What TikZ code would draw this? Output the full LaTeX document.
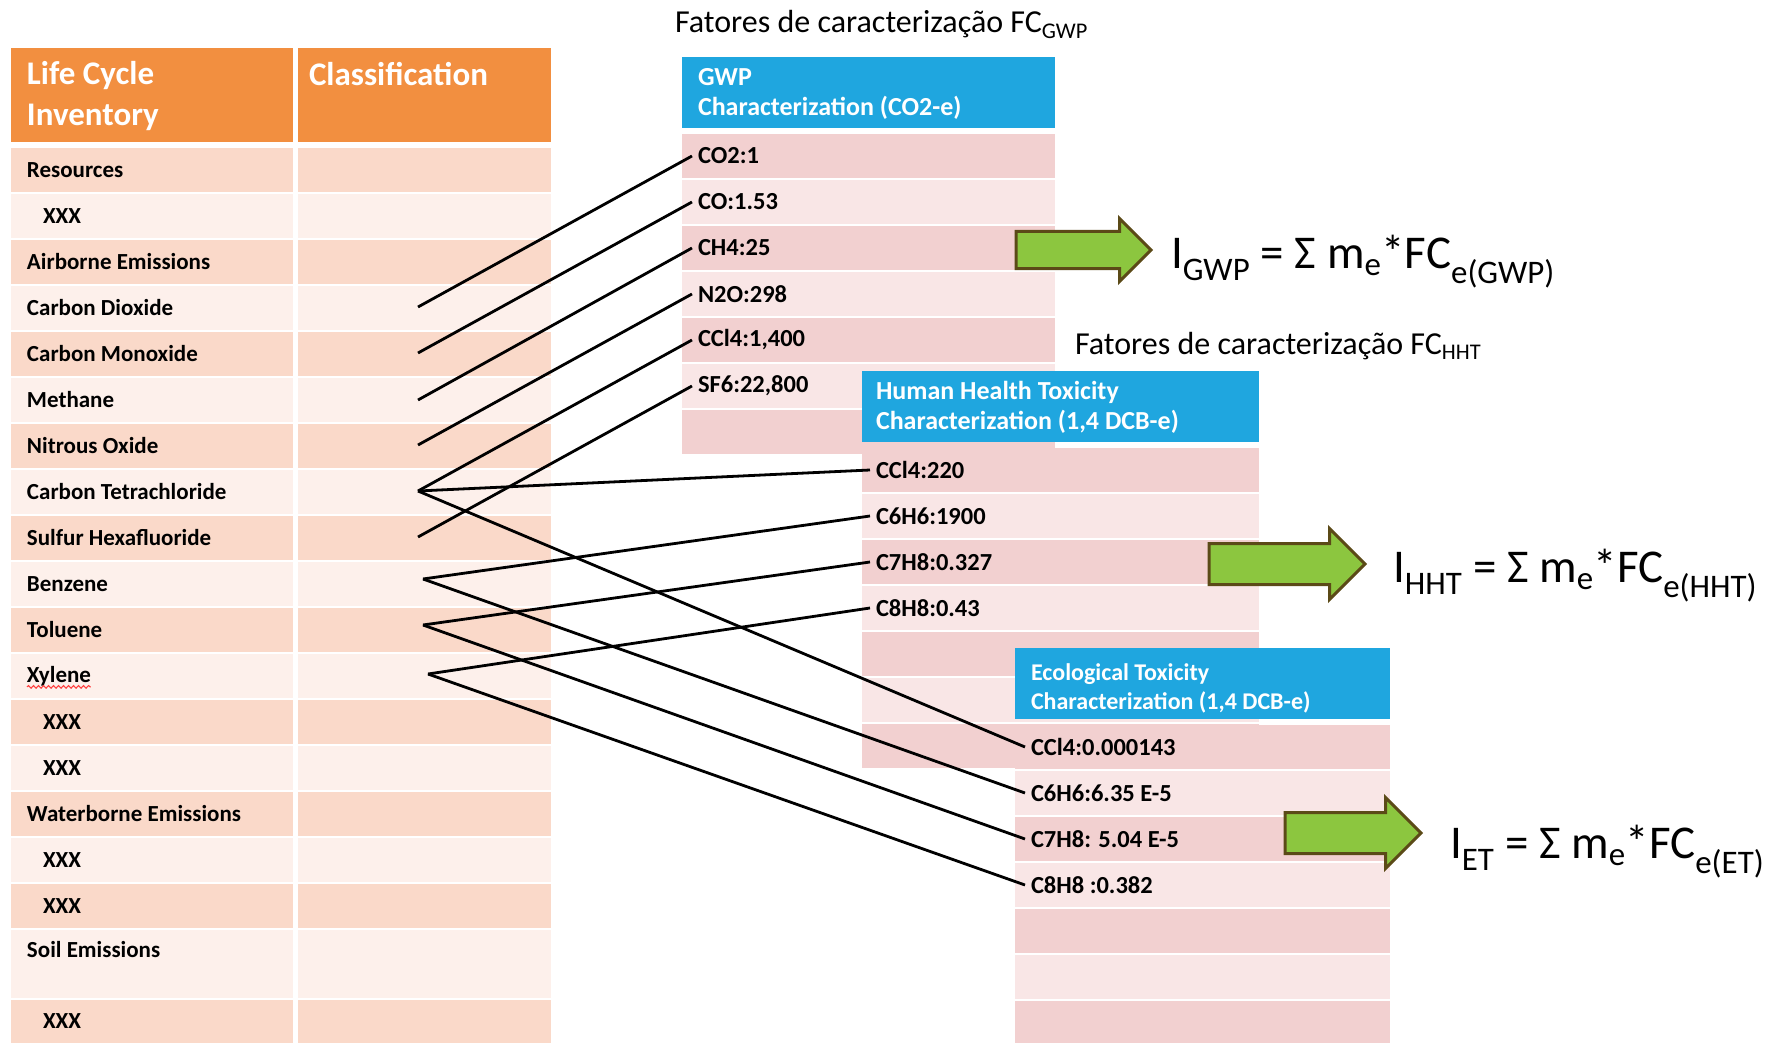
\documentclass[tikz,border=0pt]{standalone}
\usepackage{fontspec}
\setmainfont{Carlito}
\usetikzlibrary{shapes.arrows, decorations.pathmorphing}

\definecolor{lcihead}{HTML}{F28F40}
\definecolor{lcidark}{HTML}{FAD9C9}
\definecolor{lcilight}{HTML}{FDF0EB}
\definecolor{fchead}{HTML}{1FA6DF}
\definecolor{fcdark}{HTML}{F2D0D0}
\definecolor{fclight}{HTML}{F9E6E6}
\definecolor{arrowfill}{HTML}{8CC63F}
\definecolor{arrowline}{HTML}{5B4A17}

\begin{document}
\begin{tikzpicture}[x=1pt, y=-1pt,
    every node/.style={inner sep=0pt, outer sep=0pt},
    item/.style={anchor=west, font=\fontsize{23}{26}\selectfont\bfseries},
    factor/.style={anchor=west, outer xsep=6pt, font=\fontsize{24.5}{28}\selectfont\bfseries},
    headtext/.style={anchor=west, align=left, text=white, font=\fontsize{26}{30}\selectfont\bfseries},
    lcitext/.style={anchor=west, align=left, text=white, font=\fontsize{33}{41}\selectfont\bfseries},
    title/.style={anchor=base west, font=\fontsize{32}{36}\selectfont},
    formula/.style={anchor=base west, font=\fontsize{47}{56}\selectfont},
    link/.style={line width=2.8pt, black},
    fatarrow/.style={single arrow, anchor=tip, draw=arrowline, fill=arrowfill, line width=3pt,
      inner xsep=0pt, inner ysep=19pt, single arrow head extend=15pt}]
  \useasboundingbox (0,0) rectangle (1783,1043);

  % life cycle inventory table
  \fill[lcihead] (11,48) rectangle (293,142);
  \fill[lcihead] (298,48) rectangle (551,142);
  \foreach \i in {1,...,17}{
    \ifodd\i\def\rowcol{lcidark}\else\def\rowcol{lcilight}\fi
    \fill[\rowcol] (11,102+46*\i) rectangle (293,146+46*\i);
    \fill[\rowcol] (298,102+46*\i) rectangle (551,146+46*\i);
  }
  \fill[lcilight] (11,930) rectangle (293,998);
  \fill[lcilight] (298,930) rectangle (551,998);
  \fill[lcidark] (11,1000) rectangle (293,1043);
  \fill[lcidark] (298,1000) rectangle (551,1043);

  % characterization tables: x left / x right / first row top
  \foreach \xa/\xb/\ra in {682/1055/134, 862/1259/448, 1015/1390/725}{
    \fill[fchead] (\xa,\ra-77) rectangle (\xb,\ra-6);
    \foreach \j in {1,...,7}{
      \ifodd\j\def\rowcol{fcdark}\else\def\rowcol{fclight}\fi
      \fill[\rowcol] (\xa,\ra-46+46*\j) rectangle (\xb,\ra-2+46*\j);
    }
  }

  \node[lcitext] (lcihd) at (27,96) {Life Cycle\\Inventory};
  \node[lcitext] (clshd) at (309,74) {Classification};

  \node[item] (res) at (27,170) {Resources};
  \node[item] (xx1) at (43,216) {XXX};
  \node[item] (air) at (27,262) {Airborne Emissions};
  \node[item] (co2) at (27,308) {Carbon Dioxide};
  \node[item] (co) at (27,354) {Carbon Monoxide};
  \node[item] (ch4) at (27,400) {Methane};
  \node[item] (n2o) at (27,446) {Nitrous Oxide};
  \node[item] (ccl4) at (27,492) {Carbon Tetrachloride};
  \node[item] (sf6) at (27,538) {Sulfur Hexafluoride};
  \node[item] (benz) at (27,584) {Benzene};
  \node[item] (tol) at (27,630) {Toluene};
  \node[item] (xyl) at (27,676) {Xylene};
  \node[item] (xx2) at (43,722) {XXX};
  \node[item] (xx3) at (43,768) {XXX};
  \node[item] (water) at (27,814) {Waterborne Emissions};
  \node[item] (xx4) at (43,860) {XXX};
  \node[item] (xx5) at (43,906) {XXX};
  \node[item] (soil) at (27,950) {Soil Emissions};
  \node[item] (xx6) at (43,1021) {XXX};
  \draw[red!75, line width=1.1pt, decorate, decoration={snake, amplitude=1.3pt, segment length=5pt}]
    ([yshift=-1pt]xyl.south west) -- ([yshift=-1pt]xyl.south east);

  % GWP
  \node[title] (tgwp) at (675,33) {Fatores de caracterização FC\textsubscript{GWP}};
  \node[headtext] (hgwp) at (698,94) {GWP\\Characterization (CO2-e)};
  \node[factor] (gco2) at (692,156) {CO2:1};
  \node[factor] (gco) at (692,202) {CO:1.53};
  \node[factor] (gch4) at (692,248) {CH4:25};
  \node[factor] (gn2o) at (692,294) {N2O:298};
  \node[factor] (gccl4) at (692,340) {CCl4:1,400};
  \node[factor] (gsf6) at (692,386) {SF6:22,800};

  % human health toxicity
  \node[title] (thht) at (1075,354) {Fatores de caracterização FC\textsubscript{HHT}};
  \node[headtext] (hhht) at (876,407) {Human Health Toxicity\\Characterization (1,4 DCB-e)};
  \node[factor] (hccl4) at (870,470) {CCl4:220};
  \node[factor] (hbenz) at (870,516) {C6H6:1900};
  \node[factor] (htol) at (870,562) {C7H8:0.327};
  \node[factor] (hxyl) at (870,608) {C8H8:0.43};

  % ecological toxicity
  \node[headtext, font=\fontsize{24}{29}\selectfont\bfseries] (het) at (1031,688) {Ecological Toxicity\\Characterization (1,4 DCB-e)};
  \node[factor] (eccl4) at (1025,747) {CCl4:0.000143};
  \node[factor] (ebenz) at (1025,793) {C6H6:6.35 E-5};
  \node[factor] (etol) at (1025,839) {C7H8: 5.04 E-5};
  \node[factor] (exyl) at (1025,885) {C8H8 :0.382};

  % impact arrows and formulas
  \node[fatarrow, minimum height=135pt, inner ysep=17pt, single arrow head extend=13pt] (agwp) at (1151,250) {};
  \node[formula] (igwp) at (1171,268) {I\textsubscript{GWP} = Σ m\textsubscript{e}*FC\textsubscript{e(GWP)}};
  \node[fatarrow, minimum height=156pt] (ahht) at (1365,564) {};
  \node[formula] (ihht) at (1393,582) {I\textsubscript{HHT} = Σ m\textsubscript{e}*FC\textsubscript{e(HHT)}};
  \node[fatarrow, minimum height=136pt] (aet) at (1421,833) {};
  \node[formula] (iet) at (1450,858) {I\textsubscript{ET} = Σ m\textsubscript{e}*FC\textsubscript{e(ET)}};

  % classification links
  \coordinate (co2-l) at (418,307);
  \coordinate (co-l) at (418,353);
  \coordinate (ch4-l) at (418,400);
  \coordinate (n2o-l) at (418,445);
  \coordinate (ccl4-l) at (418,491);
  \coordinate (sf6-l) at (418,537);
  \coordinate (benz-l) at (423,579);
  \coordinate (tol-l) at (423,625);
  \coordinate (xyl-l) at (428,674);
  \draw[link] (co2-l) -- (gco2.west);
  \draw[link] (co-l) -- (gco.west);
  \draw[link] (ch4-l) -- (gch4.west);
  \draw[link] (n2o-l) -- (gn2o.west);
  \draw[link] (ccl4-l) -- (gccl4.west);
  \draw[link] (sf6-l) -- (gsf6.west);
  \draw[link] (ccl4-l) -- (hccl4.west);
  \draw[link] (ccl4-l) -- (eccl4.west);
  \draw[link] (benz-l) -- (hbenz.west);
  \draw[link] (benz-l) -- (ebenz.west);
  \draw[link] (tol-l) -- (htol.west);
  \draw[link] (tol-l) -- (etol.west);
  \draw[link] (xyl-l) -- (hxyl.west);
  \draw[link] (xyl-l) -- (exyl.west);
\end{tikzpicture}
\end{document}
